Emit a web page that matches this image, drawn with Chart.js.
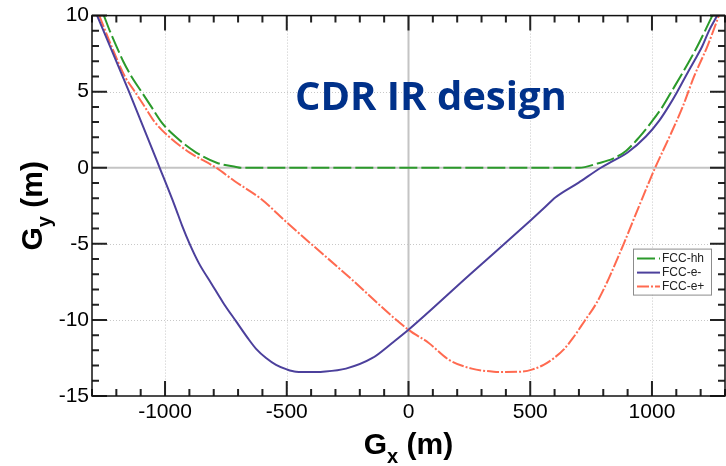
<!DOCTYPE html>
<html>
<head>
<meta charset="utf-8">
<script src="https://cdn.jsdelivr.net/npm/chart.js@4.4.0/dist/chart.umd.min.js"></script>
<style>
  html, body { margin: 0; padding: 0; background: #fff; }
  #wrap { width: 726px; height: 466px; }
</style>
</head>
<body>
<div id="wrap"><canvas id="chart" width="726" height="466"></canvas></div>
<script>
// FCC-hh
const hhX = [-1251, -1227, -1200, -1172, -1138, -1097, -1056, -1015, -954, -872, -783, -708, -690, 0, 700, 780, 840, 893, 947, 1000, 1043, 1080, 1117, 1153, 1187, 1218, 1248];
const hhY = [10, 9, 8, 7, 6, 5, 4, 3, 2, 1, 0.3, 0.05, 0, 0, 0, 0.3, 0.6, 1.1, 2, 3.05, 4, 5, 6, 7, 8, 9, 10];
// FCC-e-
const emX = [-1279, -1148, -1022, -960, -930, -899, -860, -810, -760, -708, -660, -626, -585, -544, -500, -462, -400, -352, -257, -148, -66, 0, 250, 500, 560, 603, 699, 790, 840, 900, 975, 1030, 1071, 1104, 1138, 1173, 1207, 1234, 1268];
const emY = [10, 5, 0, -2.5, -3.8, -5, -6.3, -7.6, -8.9, -10.1, -11.2, -11.9, -12.5, -12.95, -13.25, -13.4, -13.42, -13.4, -13.2, -12.5, -11.5, -10.65, -7.05, -3.48, -2.6, -1.96, -0.98, 0, 0.45, 1, 2.05, 3.1, 4.1, 5, 6, 7, 8, 9, 10];
// FCC-e+
const epX = [-1270, -1220, -1165, -1124, -1083, -1042, -981, -899, -790, -715, -604, -500, -250, 0, 82, 164, 260, 350, 400, 465, 510, 555, 598, 640, 675, 722, 772, 822, 860, 884, 945, 1013, 1071, 1126, 1173, 1228, 1275];
const epY = [10, 8, 6, 5, 4, 3, 2, 1, 0, -0.87, -2.07, -3.59, -7.1, -10.65, -11.5, -12.6, -13.2, -13.4, -13.42, -13.4, -13.25, -12.95, -12.5, -11.9, -11.2, -10.1, -8.9, -7.3, -5.9, -5, -2.6, 0, 2, 4, 6, 8, 10];

const seriesNames = ['FCC-hh', 'FCC-e-', 'FCC-e+'];
const xTicks = [-1000, -500, 0, 500, 1000];
const yTicks = [-15, -10, -5, 0, 5, 10];
const xMinor = 100;
const yMinor = 1;
const noteText = 'CDR IR design';

const FONT = '"Liberation Sans", Arial, sans-serif';

function pts(xs, ys) {
    return xs.map((x, i) => ({ x: x, y: ys[i] }));
}

// grid, frame, inward ticks, axis titles, legend and the note
const decor = {
    id: 'decor',
    beforeDatasetsDraw(chart) {
        const { ctx, chartArea: a, scales: { x, y } } = chart;
        ctx.save();
        ctx.strokeStyle = '#c8c8c8';
        ctx.lineWidth = 1;
        ctx.setLineDash([1, 2]);
        xTicks.forEach(v => {
            if (v === 0) return;
            const px = Math.round(x.getPixelForValue(v)) + 0.5;
            ctx.beginPath(); ctx.moveTo(px, a.top); ctx.lineTo(px, a.bottom); ctx.stroke();
        });
        yTicks.forEach(v => {
            if (v === 0 || v === y.min || v === y.max) return;
            const py = Math.round(y.getPixelForValue(v)) + 0.5;
            ctx.beginPath(); ctx.moveTo(a.left, py); ctx.lineTo(a.right, py); ctx.stroke();
        });
        ctx.setLineDash([]);
        ctx.strokeStyle = '#c4c4c4';
        ctx.lineWidth = 2;
        const x0 = x.getPixelForValue(0), y0 = y.getPixelForValue(0);
        ctx.beginPath(); ctx.moveTo(x0, a.top); ctx.lineTo(x0, a.bottom); ctx.stroke();
        ctx.beginPath(); ctx.moveTo(a.left, y0); ctx.lineTo(a.right, y0); ctx.stroke();

        // note inside the plot
        ctx.fillStyle = '#00318a';
        ctx.font = 'bold 40px "Open Sans", sans-serif';
        ctx.textAlign = 'center';
        ctx.textBaseline = 'alphabetic';
        ctx.fillText(noteText, x.getPixelForValue(92), y.getPixelForValue(3.8));
        ctx.restore();
    },
    afterDraw(chart) {
        const { ctx, chartArea: a, scales: { x, y } } = chart;
        ctx.save();
        ctx.setLineDash([]);
        ctx.strokeStyle = '#222';
        ctx.lineWidth = 2;
        // minor + major ticks on all four sides, pointing inward
        const segs = [];
        for (let v = -1300; v <= 1300; v += xMinor) {
            const len = xTicks.includes(v) ? 15 : 7;
            const px = x.getPixelForValue(v);
            segs.push([px, a.bottom, px, a.bottom - len]);
            segs.push([px, a.top, px, a.top + len]);
        }
        for (let v = -15; v <= 10; v += yMinor) {
            const len = yTicks.includes(v) ? 15 : 7;
            const py = y.getPixelForValue(v);
            segs.push([a.left, py, a.left + len, py]);
            segs.push([a.right, py, a.right - len, py]);
        }
        ctx.beginPath();
        segs.forEach(s => { ctx.moveTo(s[0], s[1]); ctx.lineTo(s[2], s[3]); });
        ctx.stroke();
        ctx.lineWidth = 1.5;
        ctx.strokeStyle = '#111';
        ctx.strokeRect(a.left, a.top, a.right - a.left, a.bottom - a.top);

        // legend
        const lw = 78, lh = 46;
        const lx = a.right - 14 - lw, ly = a.top + 233;
        ctx.fillStyle = '#fff';
        ctx.fillRect(lx, ly, lw, lh);
        ctx.strokeStyle = '#8c8c8c';
        ctx.lineWidth = 1;
        ctx.strokeRect(lx + 0.5, ly + 0.5, lw, lh);
        ctx.font = '12px ' + FONT;
        ctx.textBaseline = 'middle';
        ctx.textAlign = 'left';
        chart.data.datasets.forEach((ds, i) => {
            const ry = ly + 10 + i * 14;
            ctx.strokeStyle = ds.borderColor;
            ctx.lineWidth = 2;
            ctx.setLineDash(ds.borderDash || []);
            ctx.beginPath(); ctx.moveTo(lx + 4, ry); ctx.lineTo(lx + 27, ry); ctx.stroke();
            ctx.setLineDash([]);
            ctx.fillStyle = '#222';
            ctx.fillText(ds.label, lx + 29, ry);
        });

        // axis titles with subscripts
        ctx.fillStyle = '#000';
        ctx.textBaseline = 'alphabetic';
        ctx.textAlign = 'left';
        const big = 'bold 30px ' + FONT, small = 'bold 20px ' + FONT;
        function title(sub) {
            ctx.font = big;
            const wG = ctx.measureText('G').width;
            const wM = ctx.measureText(' (m)').width;
            ctx.font = small;
            const wS = ctx.measureText(sub).width;
            let cx = -(wG + wS + wM) / 2;
            ctx.font = big; ctx.fillText('G', cx, 0); cx += wG;
            ctx.font = small; ctx.fillText(sub, cx, 9); cx += wS;
            ctx.font = big; ctx.fillText(' (m)', cx, 0);
        }
        ctx.save();
        ctx.translate((a.left + a.right) / 2, chart.height - 12);
        title('x');
        ctx.restore();
        ctx.save();
        ctx.translate(42, (a.top + a.bottom) / 2);
        ctx.rotate(-Math.PI / 2);
        title('y');
        ctx.restore();
        ctx.restore();
    }
};

const ctx = document.getElementById('chart').getContext('2d');

new Chart(ctx, {
    type: 'line',
    data: {
        datasets: [
            {
                label: seriesNames[0],
                data: pts(hhX, hhY),
                borderColor: '#2b9a2b',
                borderWidth: 2,
                borderDash: [18, 4]
            },
            {
                label: seriesNames[1],
                data: pts(emX, emY),
                borderColor: '#4c409c',
                borderWidth: 2
            },
            {
                label: seriesNames[2],
                data: pts(epX, epY),
                borderColor: '#ff6a50',
                borderWidth: 2,
                borderDash: [12, 2, 2, 2]
            }
        ]
    },
    options: {
        responsive: false,
        animation: false,
        elements: {
            point: { radius: 0 },
            line: { cubicInterpolationMode: 'monotone', fill: false }
        },
        layout: { padding: { top: 14, right: 1, left: 0, bottom: 0 } },
        scales: {
            x: {
                type: 'linear',
                min: -1300,
                max: 1300,
                grid: { display: false, drawTicks: false },
                border: { display: false },
                ticks: {
                    color: '#000',
                    font: { size: 21, family: FONT },
                    padding: 4,
                    maxRotation: 0,
                    autoSkip: false,
                    callback: v => String(v)
                },
                afterBuildTicks: s => { s.ticks = xTicks.map(v => ({ value: v })); },
                afterFit: s => { s.height = 70; }
            },
            y: {
                type: 'linear',
                min: -15,
                max: 10,
                grid: { display: false, drawTicks: false },
                border: { display: false },
                ticks: {
                    color: '#000',
                    font: { size: 21, family: FONT },
                    padding: 3,
                    autoSkip: false,
                    callback: v => String(v)
                },
                afterBuildTicks: s => { s.ticks = yTicks.map(v => ({ value: v })); },
                afterFit: s => { s.width = 92; }
            }
        },
        plugins: {
            legend: { display: false },
            tooltip: { enabled: false }
        }
    },
    plugins: [decor]
});
</script>
</body>
</html>
